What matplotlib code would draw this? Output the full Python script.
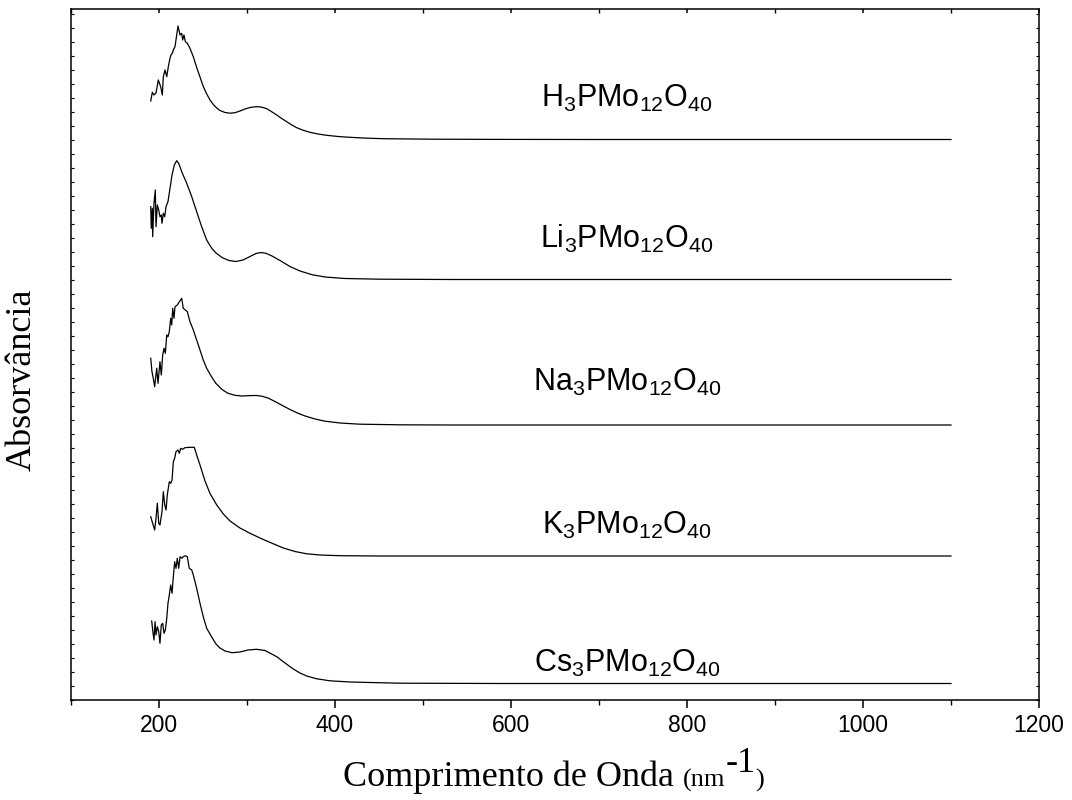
import numpy as np
import matplotlib
matplotlib.use('Agg')
import matplotlib.pyplot as plt
import matplotlib.ticker as ticker

# wavelength (nm) / absorbance (arb. units, curves already stacked)
h_wl = [190.6, 192.4, 194.3, 196.6, 199.2, 201.9, 203.8, 204.9, 206.8, 208.8, 210.6, 212.5, 213.6,
        215.1, 216.3, 218.2, 220.1, 221.6, 223.9, 225.8, 226.9, 228.4, 229.9, 232.2, 235.2, 239.0,
        242.8, 246.6, 250.3, 254.2, 258.0, 261.7, 265.6, 269.3, 275.0, 280.7, 286.4, 292.0, 297.7,
        303.4, 309.1, 312.8, 317.0, 322.4, 327.3, 333.8, 338.6, 345.1, 350.0, 356.5, 363.6, 371.6,
        380.7, 390.6, 403.4, 417.0, 434.1, 454.9, 511.4, 587.5, 700, 1100]
h_abs = [5.99, 6.077, 6.05, 6.07, 6.20, 6.133, 6.05, 6.233, 6.30, 6.233, 6.333, 6.417, 6.45,
         6.467, 6.50, 6.533, 6.65, 6.74, 6.65, 6.667, 6.60, 6.65, 6.583, 6.567, 6.517, 6.433,
         6.325, 6.23, 6.135, 6.06, 6.00, 5.955, 5.92, 5.895, 5.875, 5.868, 5.873, 5.89, 5.91,
         5.925, 5.932, 5.933, 5.928, 5.913, 5.887, 5.85, 5.82, 5.783, 5.755, 5.723, 5.698, 5.677,
         5.66, 5.647, 5.635, 5.627, 5.619, 5.613, 5.608, 5.606, 5.605, 5.605]

li_wl = [190.6, 191.2, 192.4, 192.8, 194.3, 195.8, 196.6, 198.1, 199.7, 201.1, 202.6, 203.4, 204.9,
         206.5, 208.0, 210.2, 212.5, 214.8, 217.4, 220.1, 222.4, 225.8, 231.5, 237.2, 242.8, 248.5,
         254.2, 259.9, 264.8, 271.6, 279.5, 287.5, 295.5, 303.4, 310.2, 315.9, 321.6, 328.4, 337.5,
         348.9, 360.2, 373.9, 388.6, 411.4, 451.1, 530.7, 1100]
li_abs = [4.933, 4.717, 4.917, 4.633, 4.967, 5.10, 4.733, 4.95, 4.90, 4.833, 4.85, 4.767, 4.867,
          4.833, 4.933, 4.983, 5.117, 5.25, 5.35, 5.393, 5.367, 5.283, 5.167, 5.033, 4.883, 4.733,
          4.60, 4.517, 4.47, 4.425, 4.395, 4.385, 4.40, 4.435, 4.465, 4.475, 4.467, 4.44, 4.395,
          4.335, 4.29, 4.253, 4.23, 4.215, 4.208, 4.205, 4.205]

na_wl = [190.6, 192.0, 193.5, 195.1, 197.4, 198.9, 201.1, 202.6, 204.2, 205.7, 207.2, 208.8, 210.2,
         211.7, 213.3, 214.4, 215.6, 217.0, 218.2, 220.8, 223.1, 225.8, 227.6, 229.9, 232.2, 235.2,
         239.0, 242.8, 246.6, 250.3, 254.2, 259.9, 264.8, 271.6, 278.4, 286.4, 294.3, 303.4, 311.0,
         317.0, 323.9, 331.8, 339.8, 348.9, 358.0, 367.0, 377.3, 388.6, 405.7, 428.4, 473.9, 530.7, 1100]
na_abs = [3.417, 3.283, 3.217, 3.133, 3.317, 3.167, 3.383, 3.25, 3.45, 3.517, 3.467, 3.65, 3.633,
          3.683, 3.817, 3.75, 3.917, 3.817, 3.933, 3.95, 3.983, 4.017, 3.917, 3.90, 3.883, 3.783,
          3.70, 3.60, 3.50, 3.40, 3.317, 3.23, 3.165, 3.105, 3.067, 3.047, 3.04, 3.044, 3.045,
          3.038, 3.02, 2.985, 2.947, 2.905, 2.867, 2.837, 2.81, 2.788, 2.77, 2.758, 2.752, 2.75, 2.75]

k_wl = [190.6, 192.8, 195.1, 196.6, 198.1, 199.7, 201.1, 203.4, 204.9, 206.5, 208.0, 209.4, 211.7,
        213.3, 214.8, 216.3, 217.8, 219.3, 221.6, 223.1, 224.7, 226.9, 229.5, 235.2, 240.1, 242.8,
        246.6, 252.3, 258.0, 265.6, 273.1, 280.7, 292.0, 303.4, 318.5, 331.8, 341.3, 354.5, 367.8,
        383.0, 405.7, 451.1, 1100]
k_abs = [1.833, 1.767, 1.70, 1.817, 1.967, 1.767, 1.75, 1.883, 2.083, 1.95, 1.90, 2.05, 2.183,
         2.167, 2.20, 2.383, 2.417, 2.483, 2.50, 2.467, 2.517, 2.507, 2.523, 2.527, 2.527, 2.45,
         2.35, 2.19, 2.065, 1.95, 1.86, 1.79, 1.72, 1.667, 1.605, 1.555, 1.52, 1.485, 1.462,
         1.45, 1.443, 1.44, 1.44]

cs_wl = [191.7, 192.8, 194.3, 195.5, 196.6, 198.1, 199.7, 201.1, 202.6, 204.2, 205.7, 207.2, 208.8,
         210.2, 211.7, 213.3, 214.8, 216.3, 217.8, 219.3, 220.8, 222.4, 223.9, 226.1, 227.6, 229.9,
         232.2, 234.4, 237.2, 239.0, 242.8, 246.6, 250.3, 254.2, 259.9, 264.8, 269.3, 275.0, 283.0,
         292.0, 301.1, 311.0, 320.5, 333.8, 343.2, 352.6, 360.2, 367.8, 379.2, 394.3, 417.0, 473.9,
         587.5, 1100]
cs_abs = [0.79, 0.70, 0.60, 0.783, 0.65, 0.733, 0.683, 0.567, 0.75, 0.767, 0.667, 0.70, 0.817,
          0.967, 1.05, 1.15, 1.067, 1.233, 1.383, 1.317, 1.417, 1.317, 1.433, 1.417, 1.433, 1.443,
          1.433, 1.317, 1.30, 1.25, 1.117, 0.967, 0.833, 0.717, 0.63, 0.56, 0.52, 0.49, 0.473,
          0.48, 0.50, 0.507, 0.495, 0.433, 0.37, 0.31, 0.27, 0.24, 0.212, 0.192, 0.18, 0.168,
          0.165, 0.165]

labels = [r'$\mathregular{H_3PMo_{12}O_{40}}$', r'$\mathregular{Li_3PMo_{12}O_{40}}$',
          r'$\mathregular{Na_3PMo_{12}O_{40}}$', r'$\mathregular{K_3PMo_{12}O_{40}}$',
          r'$\mathregular{Cs_3PMo_{12}O_{40}}$']
label_y = [5.93, 4.52, 3.09, 1.66, 0.28]

plt.rcParams['font.family'] = ['Liberation Sans', 'DejaVu Sans']
plt.rcParams['mathtext.fontset'] = 'custom'
plt.rcParams['mathtext.rm'] = 'Liberation Sans'
plt.rcParams['mathtext.it'] = 'Liberation Sans:italic'

fig = plt.figure(figsize=(10.72, 8), dpi=100)
ax = fig.add_axes([71/1072, 100/800, 968/1072, 691/800])

for wl, ab in [(h_wl, h_abs), (li_wl, li_abs), (na_wl, na_abs), (k_wl, k_abs), (cs_wl, cs_abs)]:
    ax.plot(wl, ab, color='black', lw=0.9)

for lab, y in zip(labels, label_y):
    ax.text(732, y, lab, fontsize=22, ha='center', va='baseline')

ax.set_xlim(100, 1200)
ax.set_ylim(0, 6.91)
ax.xaxis.set_major_locator(ticker.MultipleLocator(200))
ax.xaxis.set_minor_locator(ticker.MultipleLocator(100))
ax.yaxis.set_major_locator(ticker.MultipleLocator(0.7))
ax.yaxis.set_minor_locator(ticker.MultipleLocator(0.14))
ax.tick_params(axis='x', which='major', direction='out', length=6, width=1.1, labelsize=16.5, pad=4)
ax.tick_params(axis='x', which='minor', direction='out', length=3.5, width=1.0)
ax.tick_params(axis='x', which='both', top=True)
ax.tick_params(axis='y', which='both', direction='in', left=True, right=True,
               labelleft=False, length=2.5, width=0.8)
for sp in ax.spines.values():
    sp.set_linewidth(1.1)

# top ticks point inward
for t in ax.xaxis.get_major_ticks() + ax.xaxis.get_minor_ticks():
    t.tick2line.set_marker(matplotlib.lines.TICKDOWN)
    t.tick2line.set_markersize(3)

serif = ['Liberation Serif', 'DejaVu Serif']
t1 = fig.text(343/1072, 1 - 786/800, 'Comprimento de Onda ', fontsize=26, family=serif,
              ha='left', va='baseline')
t2 = ax.annotate('(nm', xy=(1, 0), xycoords=t1, xytext=(0, 5.6), textcoords='offset points',
                 fontsize=19, family=serif, ha='left', va='baseline')
t3 = ax.annotate('-1', xy=(1, 0), xycoords=t2, xytext=(0, 14), textcoords='offset points',
                 fontsize=26, family=serif, ha='left', va='baseline')
ax.annotate(')', xy=(1, 0), xycoords=t3, xytext=(0, -4.4), textcoords='offset points',
            fontsize=19, family=serif, ha='left', va='baseline')

fig.text(22/1072, 1 - 380/800, 'Absorvância', fontsize=26, family=serif, rotation=90,
         ha='center', va='center')

fig.savefig('out.png', dpi=100)
